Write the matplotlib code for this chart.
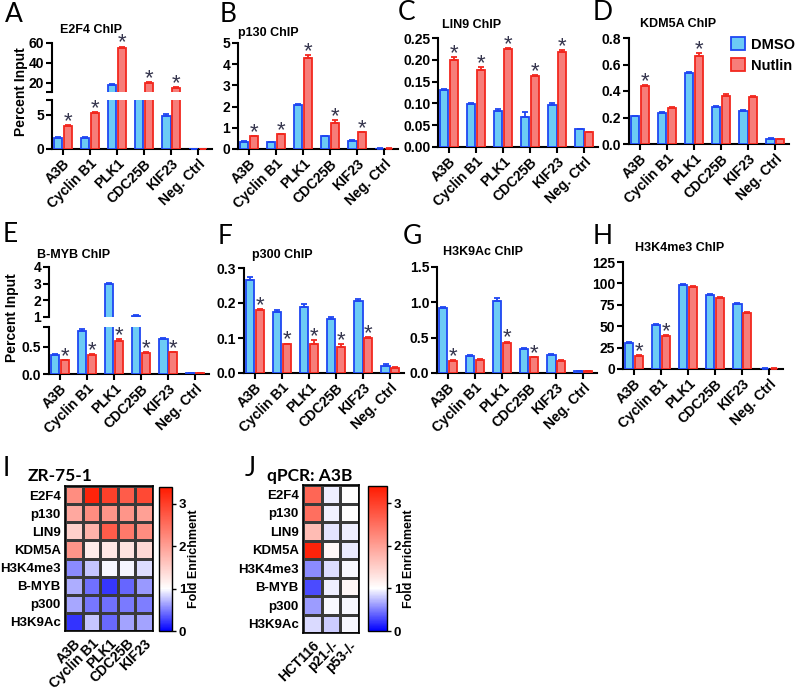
"""Nutlin ChIP panels (A-H) plus fold-enrichment heatmaps (I, J)."""
import matplotlib
matplotlib.use("Agg")
import matplotlib.pyplot as plt
from matplotlib.colors import LinearSegmentedColormap
from matplotlib.patches import Patch
import numpy as np

W, H = 796, 692
plt.rcParams["font.family"] = ["Liberation Sans", "DejaVu Sans"]
plt.rcParams["font.weight"] = "bold"

GENES = ["A3B", "Cyclin B1", "PLK1", "CDC25B", "KIF23", "Neg. Ctrl"]

# percent input, DMSO vs Nutlin
e2f4_dmso = [1.6, 1.6, 18, 9, 4.9, 0.05]
e2f4_nut = [3.4, 5.3, 55, 20.3, 15, 0.05]
e2f4_err_d = [0.1, 0.1, 0.6, 0.3, 0.2, 0.01]
e2f4_err_n = [0.1, 0.15, 1.5, 0.8, 0.6, 0.01]
e2f4_star = [0, 1, 2, 3, 4]

p130_dmso = [0.35, 0.32, 2.07, 0.6, 0.4, 0.02]
p130_nut = [0.6, 0.7, 4.3, 1.25, 0.78, 0.02]
p130_err_d = [0.02, 0.02, 0.04, 0.02, 0.02, 0.005]
p130_err_n = [0.03, 0.02, 0.12, 0.1, 0.03, 0.005]
p130_star = [0, 1, 2, 3, 4]

lin9_dmso = [0.130, 0.099, 0.083, 0.068, 0.097, 0.041]
lin9_nut = [0.199, 0.176, 0.224, 0.163, 0.217, 0.034]
lin9_err_d = [0.002, 0.003, 0.004, 0.012, 0.003, 0.001]
lin9_err_n = [0.007, 0.007, 0.003, 0.003, 0.005, 0.0]
lin9_star = [0, 1, 2, 3, 4]

kdm5a_dmso = [0.21, 0.235, 0.535, 0.28, 0.25, 0.04]
kdm5a_nut = [0.435, 0.275, 0.665, 0.365, 0.355, 0.035]
kdm5a_err_d = [0.005, 0.005, 0.01, 0.005, 0.005, 0.002]
kdm5a_err_n = [0.01, 0.008, 0.02, 0.015, 0.005, 0.002]
kdm5a_star = [0, 2]

bmyb_dmso = [0.36, 0.8, 3.0, 1.08, 0.65, 0.02]
bmyb_nut = [0.25, 0.36, 0.61, 0.39, 0.40, 0.02]
bmyb_err_d = [0.01, 0.03, 0.05, 0.02, 0.01, 0.002]
bmyb_err_n = [0.01, 0.01, 0.03, 0.01, 0.01, 0.002]
bmyb_star = [0, 1, 2, 3, 4]

p300_dmso = [0.265, 0.175, 0.19, 0.155, 0.205, 0.02]
p300_nut = [0.18, 0.082, 0.083, 0.074, 0.1, 0.015]
p300_err_d = [0.008, 0.004, 0.008, 0.004, 0.006, 0.005]
p300_err_n = [0.003, 0.002, 0.01, 0.008, 0.002, 0.002]
p300_star = [0, 1, 2, 3, 4]

h3k9ac_dmso = [0.92, 0.24, 1.02, 0.34, 0.26, 0.03]
h3k9ac_nut = [0.17, 0.19, 0.43, 0.22, 0.17, 0.03]
h3k9ac_err_d = [0.02, 0.01, 0.04, 0.01, 0.01, 0.005]
h3k9ac_err_n = [0.01, 0.01, 0.015, 0.01, 0.01, 0.005]
h3k9ac_star = [0, 2, 3]

h3k4me3_dmso = [30, 51, 98, 86, 76, 0.5]
h3k4me3_nut = [15.5, 39, 96, 83.5, 66, 0.5]
h3k4me3_err_d = [1, 1, 1.5, 1.5, 0.8, 0.2]
h3k4me3_err_n = [0.5, 0.5, 0.5, 0.5, 0.5, 0.2]
h3k4me3_star = [0, 1]

# fold enrichment heatmaps
MARKS = ["E2F4", "p130", "LIN9", "KDM5A", "H3K4me3", "B-MYB", "p300", "H3K9Ac"]
ZR_COLS = ["A3B", "Cyclin B1", "PLK1", "CDC25B", "KIF23"]
zr_fold = [
    [2.2, 3.3, 3.0, 2.7, 2.9],
    [1.9, 2.2, 2.1, 2.1, 2.0],
    [1.5, 1.8, 2.7, 2.4, 2.2],
    [2.1, 1.2, 1.25, 1.3, 1.4],
    [0.55, 0.78, 0.98, 0.96, 0.87],
    [0.68, 0.45, 0.22, 0.4, 0.6],
    [0.66, 0.47, 0.45, 0.48, 0.5],
    [0.2, 0.78, 0.42, 0.65, 0.64],
]
QPCR_COLS = ["HCT116", "p21-/-", "p53-/-"]
qpcr_fold = [
    [2.6, 0.93, 1.02],
    [2.5, 0.95, 1.01],
    [1.7, 0.9, 0.94],
    [3.3, 1.08, 0.92],
    [0.55, 0.87, 0.97],
    [0.3, 0.94, 1.08],
    [0.62, 0.98, 0.98],
    [0.85, 0.8, 0.97],
]

DMSO_FACE, DMSO_EDGE = "#6ccbf5", "#1f47f2"
NUT_FACE, NUT_EDGE = "#f77d79", "#f2281f"
STAR = "#35354d"
BW, OFF = 0.3, 0.18
TICK = 10


def px(l, t, r, b):
    return [l / W, 1 - b / H, (r - l) / W, (b - t) / H]


def style(ax, lim, ticks, labels):
    ax.set_xlim(-0.4, 5.5)
    ax.set_ylim(*lim)
    ax.set_yticks(ticks, labels)
    for s in ("top", "right"):
        ax.spines[s].set_visible(False)
    for s in ("left", "bottom"):
        ax.spines[s].set_linewidth(1.5)
    ax.tick_params(width=1.5, length=4, labelsize=TICK, pad=1.5)


def bars(ax, dmso, nut, err_d, err_n):
    x = np.arange(len(GENES))
    ax.bar(x - OFF, dmso, BW, color=DMSO_FACE, edgecolor=DMSO_EDGE, lw=1.3, zorder=3)
    ax.bar(x + OFF, nut, BW, color=NUT_FACE, edgecolor=NUT_EDGE, lw=1.3, zorder=3)
    ax.errorbar(x - OFF, dmso, yerr=[np.zeros(6), err_d], fmt="none",
                ecolor=DMSO_EDGE, elinewidth=1.3, capsize=2.5, capthick=1.3, zorder=4)
    ax.errorbar(x + OFF, nut, yerr=[np.zeros(6), err_n], fmt="none",
                ecolor=NUT_EDGE, elinewidth=1.3, capsize=2.5, capthick=1.3, zorder=4)


def stars(ax, nut, err_n, idx):
    for i in idx:
        ax.annotate("*", (i + OFF, nut[i] + err_n[i]), xytext=(0, -1.5),
                    textcoords="offset points", ha="center", va="baseline",
                    fontsize=16, fontweight="normal", color=STAR, zorder=5,
                    annotation_clip=False)


def xlabels(ax):
    ax.set_xticks(np.arange(len(GENES)))
    ax.set_xticklabels(GENES, rotation=45, ha="right", rotation_mode="anchor")


def simple_panel(fig, rect, dmso, nut, err_d, err_n, idx, lim, ticks, labels):
    ax = fig.add_axes(px(*rect))
    bars(ax, dmso, nut, err_d, err_n)
    style(ax, lim, ticks, labels)
    stars(ax, nut, err_n, idx)
    xlabels(ax)
    return ax


def broken_panel(fig, top_rect, low_rect, dmso, nut, err_d, err_n, idx,
                 top_lim, top_ticks, top_labels, low_lim, low_ticks, low_labels):
    up = fig.add_axes(px(*top_rect))
    lo = fig.add_axes(px(*low_rect))
    for ax in (up, lo):
        bars(ax, dmso, nut, err_d, err_n)
    style(up, top_lim, top_ticks, top_labels)
    style(lo, low_lim, low_ticks, low_labels)
    up.spines["bottom"].set_visible(False)
    up.tick_params(bottom=False, labelbottom=False)
    for i in idx:
        top = nut[i] + err_n[i]
        stars(up if top > low_lim[1] else lo, nut, err_n, [i])
    xlabels(lo)
    return up, lo


fig = plt.figure(figsize=(W / 100, H / 100), dpi=100)

# ---- row 1
broken_panel(fig, (52, 43, 212, 92), (52, 100, 212, 149),
             e2f4_dmso, e2f4_nut, e2f4_err_d, e2f4_err_n, e2f4_star,
             (11, 60), [11, 20, 40, 60], ["", "20", "40", "60"],
             (0, 7.2), [0, 5, 7.2], ["0", "5", ""])
simple_panel(fig, (238, 43, 398, 149), p130_dmso, p130_nut, p130_err_d, p130_err_n,
             p130_star, (0, 5), range(6), [str(v) for v in range(6)])
simple_panel(fig, (438, 38, 598, 147), lin9_dmso, lin9_nut, lin9_err_d, lin9_err_n,
             lin9_star, (0, 0.25), [0, 0.05, 0.1, 0.15, 0.2, 0.25],
             ["0.00", "0.05", "0.10", "0.15", "0.20", "0.25"])
simple_panel(fig, (629, 38, 789, 144), kdm5a_dmso, kdm5a_nut, kdm5a_err_d,
             kdm5a_err_n, kdm5a_star, (0, 0.8), [0, 0.2, 0.4, 0.6, 0.8],
             ["0.0", "0.2", "0.4", "0.6", "0.8"])

# ---- row 2
broken_panel(fig, (49, 267, 209, 317), (49, 327, 209, 374),
             bmyb_dmso, bmyb_nut, bmyb_err_d, bmyb_err_n, bmyb_star,
             (1, 4), [1, 2, 3, 4], ["1", "2", "3", "4"],
             (0, 0.87), [0, 0.5, 0.87], ["0.0", "0.5", ""])
simple_panel(fig, (244, 268, 404, 373), p300_dmso, p300_nut, p300_err_d, p300_err_n,
             p300_star, (0, 0.3), [0, 0.1, 0.2, 0.3], ["0.0", "0.1", "0.2", "0.3"])
simple_panel(fig, (437, 267, 597, 373), h3k9ac_dmso, h3k9ac_nut, h3k9ac_err_d,
             h3k9ac_err_n, h3k9ac_star, (0, 1.5), [0, 0.5, 1.0, 1.5],
             ["0.0", "0.5", "1.0", "1.5"])
simple_panel(fig, (623, 262, 783, 369), h3k4me3_dmso, h3k4me3_nut, h3k4me3_err_d,
             h3k4me3_err_n, h3k4me3_star, (0, 125), [0, 25, 50, 75, 100, 125],
             ["0", "25", "50", "75", "100", "125"])

# titles, panel letters, y labels
titles = [("E2F4 ChIP", 60, 30), ("p130 ChIP", 238, 33), ("LIN9 ChIP", 442, 25),
          ("KDM5A ChIP", 640, 24), ("B-MYB ChIP", 37, 255), ("p300 ChIP", 252, 255),
          ("H3K9Ac ChIP", 443, 252), ("H3K4me3 ChIP", 635, 248)]
for txt, x, y in titles:
    fig.text(x / W, 1 - y / H, txt, ha="left", va="center", fontsize=9)

letters = [("A", 5, 14), ("B", 220, 14), ("C", 398, 13), ("D", 593, 13),
           ("E", 3, 234), ("F", 218, 236), ("G", 403, 237), ("H", 593, 236),
           ("I", 3, 468), ("J", 245, 468)]
for txt, x, y in letters:
    fig.text(x / W, 1 - y / H, txt, ha="left", va="center", fontsize=19,
             family="Lato", fontweight="normal")

for x, y in ((21, 92), (12, 318)):
    fig.text(x / W, 1 - y / H, "Percent Input", rotation=90, ha="center",
             va="center", fontsize=10)

fig.legend([Patch(facecolor=DMSO_FACE, edgecolor=DMSO_EDGE, lw=1.3),
            Patch(facecolor=NUT_FACE, edgecolor=NUT_EDGE, lw=1.3)],
           ["DMSO", "Nutlin"], loc="upper left", bbox_to_anchor=(731 / W, 1 - 37 / H),
           frameon=False, prop={"weight": "bold", "size": 10.5}, handlelength=0.95,
           handleheight=1.0, handletextpad=0.45, labelspacing=0.45, borderpad=0,
           borderaxespad=0)

# ---- heatmaps
cmap = LinearSegmentedColormap.from_list(
    "fold", [(0, "#0000ff"), (1 / 3.4, "#ffffff"), (1, "#ff1a00")])


def heatmap(fig, rect, cbar_rect, label_x, values, cols, title, title_x):
    ax = fig.add_axes(px(*rect))
    vals = np.array(values)
    im = ax.pcolormesh(vals, cmap=cmap, vmin=0, vmax=3.4, edgecolors="#3a3a3a",
                       linewidth=0.8)
    ax.set_xlim(0, vals.shape[1])
    ax.set_ylim(vals.shape[0], 0)
    ax.set_yticks(np.arange(len(MARKS)) + 0.5, MARKS)
    ax.set_xticks(np.arange(len(cols)) + 0.5)
    ax.set_xticklabels(cols, rotation=45, ha="right", rotation_mode="anchor")
    ax.tick_params(axis="y", length=0, labelsize=9.5, pad=3)
    ax.tick_params(axis="x", length=0, labelsize=TICK, pad=4)
    for s in ax.spines.values():
        s.set_linewidth(1.2)
    cax = fig.add_axes(px(*cbar_rect))
    cb = fig.colorbar(im, cax=cax, ticks=[0, 1, 2, 3])
    cb.outline.set_linewidth(1.0)
    cax.tick_params(labelsize=9.5, length=3, width=1, pad=2)
    mid = (cbar_rect[1] + cbar_rect[3]) / 2
    fig.text(label_x / W, 1 - mid / H, "Fold Enrichment", rotation=90,
             ha="center", va="center", fontsize=9)


heatmap(fig, (65, 486, 153, 631), (159, 487, 172, 631), 194, zr_fold, ZR_COLS,
        "ZR-75-1", 28)
heatmap(fig, (303, 485, 359, 633), (368, 486, 387, 631), 409, qpcr_fold, QPCR_COLS,
        "qPCR: A3B", 267)
for txt, x in (("ZR-75-1", 28), ("qPCR: A3B", 267)):
    fig.text(x / W, 1 - 476 / H, txt, ha="left", va="center",
             fontsize=12.5, family="Lato", fontweight="bold")

fig.savefig("out.png", dpi=100)
